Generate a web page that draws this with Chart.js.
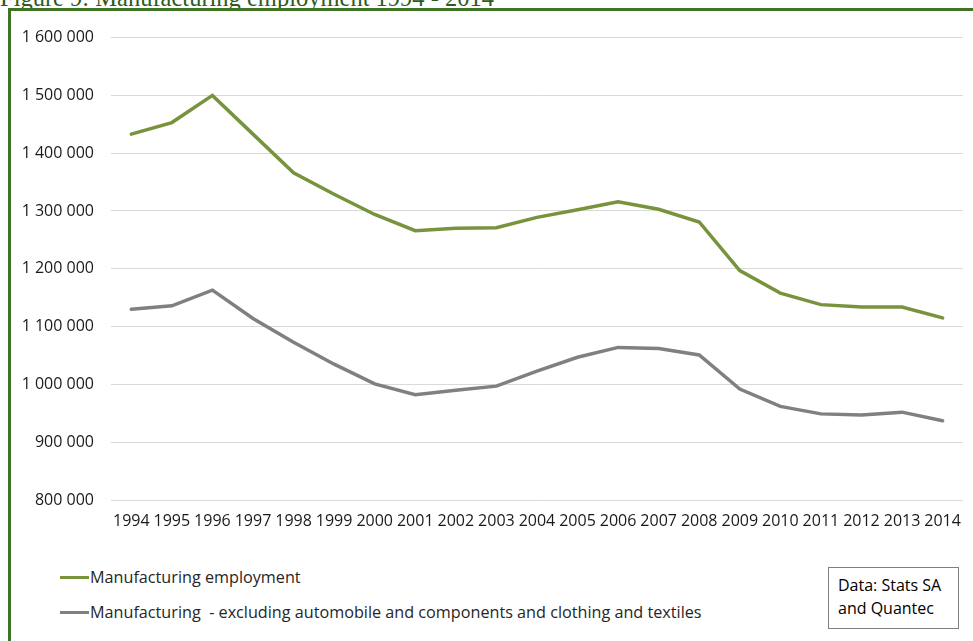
<!DOCTYPE html>
<html>
<head>
<meta charset="utf-8">
<script src="https://cdn.jsdelivr.net/npm/chart.js@4/dist/chart.umd.min.js"></script>
<style>
  html, body { margin: 0; padding: 0; background: #fff; }
  body { width: 973px; height: 641px; overflow: hidden; position: relative; }
  #title {
    position: absolute; left: 0; top: -14px;
    font-family: "Liberation Serif", "DejaVu Serif", serif;
    font-size: 24.5px; line-height: 24px; color: #2f5a1c; white-space: nowrap;
  }
  #frame {
    position: absolute; left: 8px; top: 8px; width: 1000px; height: 700px;
    border: 3px solid #3f7425; box-sizing: border-box;
  }
  #wrap { position: absolute; left: 11px; top: 11px; width: 962px; height: 529px; }
  .legend-item {
    position: absolute; left: 60px; font-family: "Open Sans", sans-serif;
    font-size: 16.2px; color: #262626; white-space: pre; line-height: 20px;
  }
  .legend-item .swatch {
    display: inline-block; width: 29px; height: 3px; vertical-align: middle;
    margin-right: 1px; position: relative; top: -1px;
  }
  #source {
    position: absolute; left: 828px; top: 567px; width: 131px; height: 62px;
    box-sizing: border-box; border: 1px solid #7f7f7f; padding: 6px 0 0 9px;
    font-family: "Open Sans", sans-serif; font-size: 16px; line-height: 23px; color: #000;
  }
</style>
</head>
<body>
<div id="title">Figure 9: Manufacturing employment 1994 - 2014</div>
<div id="frame"></div>
<div id="wrap"><canvas id="chart"></canvas></div>
<div id="legend"></div>
<div id="source">Data: Stats SA<br>and Quantec</div>
<script>
const years = ["1994","1995","1996","1997","1998","1999","2000","2001","2002","2003","2004",
               "2005","2006","2007","2008","2009","2010","2011","2012","2013","2014"];

const manufacturing = [1433000, 1453000, 1500000, 1433000, 1366000, 1329000, 1294000, 1266000,
                       1270000, 1271000, 1289000, 1302000, 1316000, 1303000, 1281000, 1197000,
                       1158000, 1138000, 1134000, 1134000, 1115000];

const manufacturingExcl = [1130000, 1136000, 1163000, 1114000, 1073000, 1035000, 1001000, 982000,
                           990000, 997000, 1023000, 1047000, 1064000, 1062000, 1051000, 992000,
                           962000, 949000, 947000, 952000, 937000];

const yTicks = { min: 800000, max: 1600000, step: 100000 };

const seriesLabels = ["Manufacturing employment",
  "Manufacturing  - excluding automobile and components and clothing and textiles"];
const seriesColors = ["#77933c", "#808080"];

const spaced = v => String(v).replace(/\B(?=(\d{3})+(?!\d))/g, " ");
const tickFont = { family: "Open Sans", size: 16 };

new Chart(document.getElementById("chart"), {
  type: "line",
  data: {
    labels: years,
    datasets: [
      { label: seriesLabels[0], data: manufacturing, borderColor: seriesColors[0],
        borderWidth: 3.5, pointRadius: 0, tension: 0, borderCapStyle: "round" },
      { label: seriesLabels[1], data: manufacturingExcl, borderColor: seriesColors[1],
        borderWidth: 3.5, pointRadius: 0, tension: 0, borderCapStyle: "round" }
    ]
  },
  options: {
    responsive: true,
    maintainAspectRatio: false,
    animation: false,
    layout: { padding: { top: 22, right: 4, bottom: 0, left: 0 } },
    plugins: { legend: { display: false }, tooltip: { enabled: false } },
    scales: {
      x: {
        offset: true,
        grid: { display: false, drawTicks: false },
        border: { display: false },
        ticks: { font: tickFont, color: "#1a1a1a", padding: 12, maxRotation: 0, autoSkip: false },
        afterFit: s => { s.height = 40; }
      },
      y: {
        min: yTicks.min, max: yTicks.max,
        grid: { color: "#d9d9d9", lineWidth: 1, drawTicks: false },
        border: { display: false },
        ticks: { stepSize: yTicks.step, font: tickFont, color: "#1a1a1a", padding: 17,
                 callback: v => spaced(v) },
        afterFit: s => { s.width = 100; }
      }
    }
  }
});

// HTML legend built from the series definitions
const legend = document.getElementById("legend");
const legendTops = [567, 602];
seriesLabels.forEach((label, i) => {
  const item = document.createElement("div");
  item.className = "legend-item";
  item.style.top = legendTops[i] + "px";
  const sw = document.createElement("span");
  sw.className = "swatch";
  sw.style.background = seriesColors[i];
  item.appendChild(sw);
  item.appendChild(document.createTextNode(label));
  legend.appendChild(item);
});
</script>
</body>
</html>
